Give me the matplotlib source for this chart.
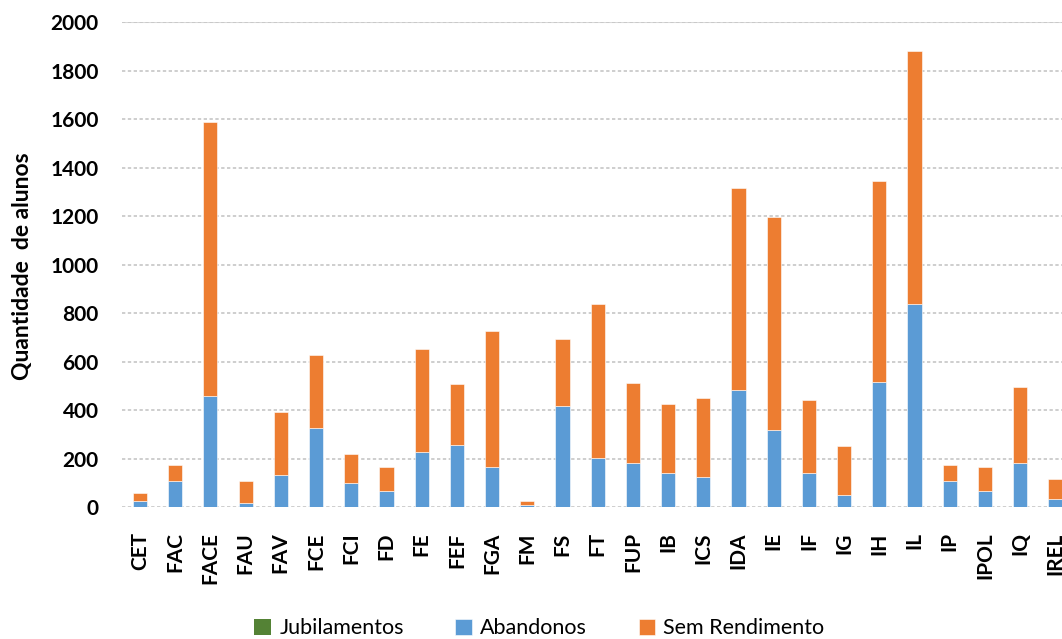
import matplotlib
matplotlib.use("Agg")
import matplotlib.pyplot as plt
import numpy as np

# Dropout counts per academic unit
unidades = ["CET", "FAC", "FACE", "FAU", "FAV", "FCE", "FCI", "FD", "FE", "FEF",
            "FGA", "FM", "FS", "FT", "FUP", "IB", "ICS", "IDA", "IE", "IF",
            "IG", "IH", "IL", "IP", "IPOL", "IQ", "IREL"]
jubilamentos = [0, 0, 0, 0, 0, 0, 0, 0, 0, 0,
                0, 0, 0, 0, 0, 0, 0, 0, 0, 0,
                0, 0, 0, 0, 0, 0, 0]
abandonos = [26, 108, 459, 19, 133, 328, 100, 67, 229, 256,
             166, 10, 418, 205, 183, 141, 125, 482, 319, 141,
             51, 515, 840, 108, 67, 183, 35]
sem_rendimento = [34, 65, 1129, 88, 259, 300, 121, 98, 424, 251,
                  561, 17, 276, 635, 331, 284, 326, 836, 878, 300,
                  203, 829, 1040, 65, 98, 314, 80]

verde = "#548235"
azul = "#5B9BD5"
laranja = "#ED7D31"

plt.rcParams["font.family"] = ["Lato", "DejaVu Sans"]

fig = plt.figure(figsize=(10.62, 6.39), dpi=100)
ax = fig.add_axes([0.1153, 0.2061, 0.8950, 0.759])

x = np.arange(len(unidades))
w = 0.40
jub = np.array(jubilamentos)
abd = np.array(abandonos)
sem = np.array(sem_rendimento)

ax.bar(x, jub, w, color=verde, label="Jubilamentos", zorder=3)
ax.bar(x, abd, w, bottom=jub, color=azul, label="Abandonos",
       edgecolor="white", linewidth=0.4, zorder=3)
ax.bar(x, sem, w, bottom=jub + abd, color=laranja, label="Sem Rendimento",
       edgecolor="white", linewidth=0.4, zorder=3)

ax.set_xlim(-0.5, len(unidades) - 0.5)
ax.set_ylim(0, 2000)
ax.set_yticks(np.arange(0, 2001, 200))
ax.yaxis.grid(True, linestyle=(0, (2, 1.5)), color="#c6c6c6", linewidth=1.2, zorder=0)
ax.axhline(2000, color="#d9d9d9", linewidth=1.5, zorder=1)
for s in ax.spines.values():
    s.set_visible(False)
ax.tick_params(axis="both", length=0)
ax.tick_params(axis="y", pad=17, labelsize=15)
ax.tick_params(axis="x", pad=18, labelsize=15)
ax.set_xticks(x)
ax.set_xticklabels(unidades, rotation=90, fontweight="bold", va="top")
for t in ax.get_yticklabels():
    t.set_fontweight("bold")

fig.text(0.021, 0.584, "Quantidade  de alunos", rotation=90, ha="center", va="center",
         fontsize=16.5, fontweight="bold")

handles, labels = ax.get_legend_handles_labels()
fig.legend(handles, labels, loc="center", bbox_to_anchor=(0.508, 0.017), ncol=3,
           frameon=False, fontsize=15.5, handlelength=0.75, handleheight=0.75,
           handletextpad=0.4, columnspacing=2.4)

fig.savefig("out.png", dpi=100)
